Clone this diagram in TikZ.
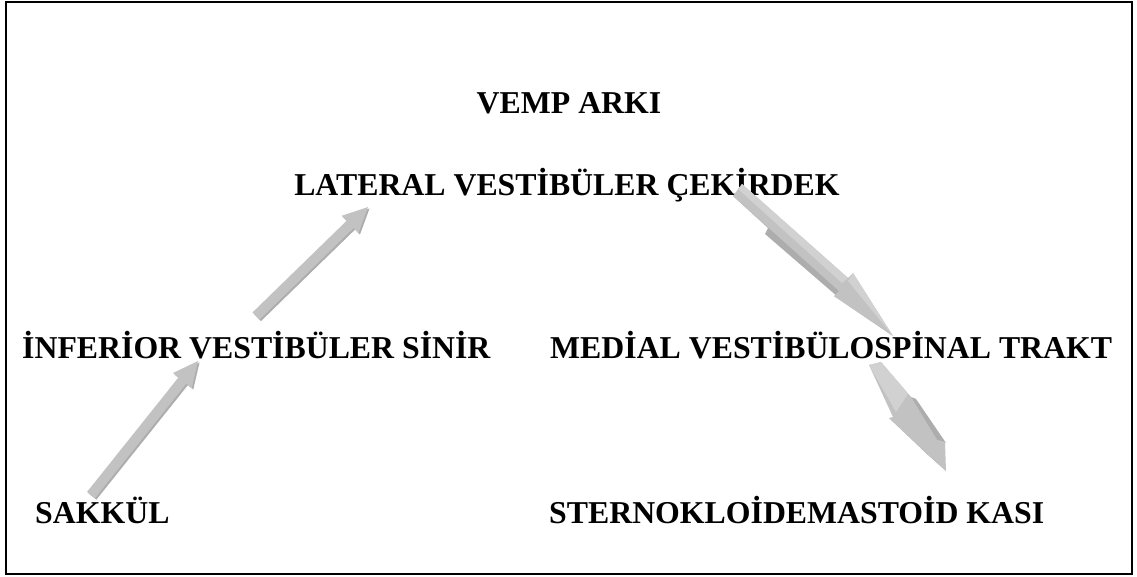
\documentclass[tikz,border=0pt]{standalone}
\usepackage{fontspec}
\setmainfont{Liberation Serif}
\usetikzlibrary{calc}
\tikzset{
  lbl/.style={font=\fontsize{31.8}{36}\selectfont\bfseries, inner sep=0pt, anchor=base west},
  arrowfill/.style={fill=black!24},
  arrowshade/.style={fill=black!32},
  arrowlight/.style={fill=black!18},
}
\newcommand\blockarrow[2]{%
  \coordinate (hb) at ($(#2)!25pt!(#1)$);
  \fill[arrowshade] ($(#1)!5pt!90:(#2)+(1.5,1.5)$) -- ($(hb)!5pt!-90:(#1)+(1.5,1.5)$) -- ($(hb)!12pt!-90:(#1)+(1.5,1.5)$) -- ($(#2)+(1.5,1.5)$) -- ($(hb)!12pt!90:(#1)+(1.5,1.5)$) -- ($(hb)!5pt!90:(#1)+(1.5,1.5)$) -- ($(#1)!5pt!-90:(#2)+(1.5,1.5)$) -- cycle;
  \fill[arrowfill] ($(#1)!5pt!90:(#2)$) -- ($(hb)!5pt!-90:(#1)$) -- ($(hb)!12pt!-90:(#1)$) -- (#2) -- ($(hb)!12pt!90:(#1)$) -- ($(hb)!5pt!90:(#1)$) -- ($(#1)!5pt!-90:(#2)$) -- cycle;
}
\begin{document}
\begin{tikzpicture}[x=1pt,y=-1pt]
\useasboundingbox (0,0) rectangle (1137,577);
\fill[white] (0,0) rectangle (1137,577);
\draw[line width=2pt] (6,2) rectangle (1132,574);
\node[lbl, anchor=base] (vemp) at (569,114) {VEMP ARKI};
\node[lbl, anchor=base] (lvc) at (567,196) {LATERAL VESTİBÜLER ÇEKİRDEK};
\node[lbl] (ivs) at (22,358) {İNFERİOR VESTİBÜLER SİNİR};
\node[lbl] (mvt) at (550,358) {MEDİAL VESTİBÜLOSPİNAL TRAKT};
\node[lbl] (sak) at (35,523) {SAKKÜL};
\node[lbl] (scm) at (549,523) {STERNOKLOİDEMASTOİD KASI};
% arrows 1 and 2: flat block arrows
\coordinate (a1s) at (256,316);
\coordinate (a1e) at (368,207);
\coordinate (a2s) at (91,495);
\coordinate (a2e) at (198,361);
\blockarrow{a1s}{a1e}
\blockarrow{a2s}{a2e}
% arrow 3: long head, 3D shaded
\coordinate (a3s) at (738,189);
\coordinate (a3e) at (893,336);
\fill[arrowshade] (733,196) -- (768,228) -- (765,234) -- (838,297) -- (834,296) -- (a3e) -- (845,287) -- cycle;
\fill[arrowfill] (742,184) -- (848,278) -- (853,273) -- (a3e) -- (834,296) -- (839,291) -- (733,196) -- cycle;
\fill[arrowlight] (742,184) -- (848,278) -- (842,283) -- (738,189) -- cycle;
\fill[arrowlight] (853,273) -- (a3e) -- (848,281) -- cycle;
% arrow 4: wide 3D arrow
\coordinate (a4s) at (875,363);
\coordinate (a4e) at (946,471);
\fill[arrowfill] (869,365) -- (881,362) -- (911,397) -- (937,440) -- (945,443) -- (a4e) -- (889,418) -- (893,417) -- cycle;
\fill[arrowlight] (869,365) -- (881,362) -- (908,394) -- (896,412) -- cycle;
\fill[arrowshade] (911,397) -- (916,399) -- (946,443) -- (937,440) -- cycle;
\fill[arrowshade] (889,418) -- (928,455) -- (a4e) -- cycle;
\end{tikzpicture}
\end{document}
